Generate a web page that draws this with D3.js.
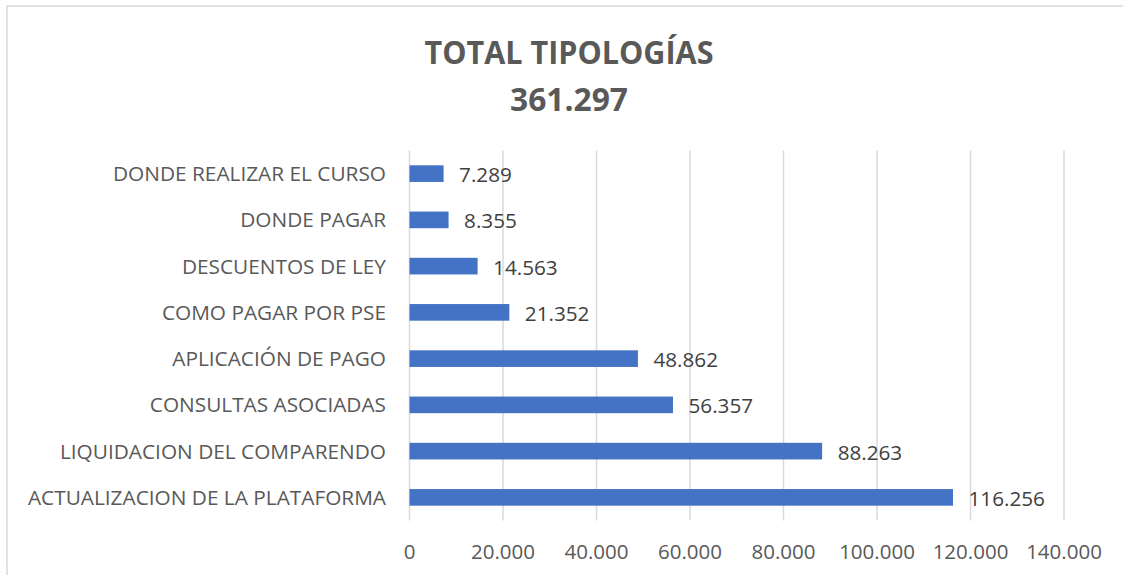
<!DOCTYPE html>
<html><head><meta charset="utf-8">
<script src="https://cdn.jsdelivr.net/npm/d3@7"></script>
<style>
html,body{margin:0;padding:0;background:#fff;}
svg{display:block;font-family:"Open Sans","Noto Sans",sans-serif;}
</style></head>
<body>
<svg id="chart" width="1123" height="575"></svg>
<script>
const titleLines = ["TOTAL TIPOLOGÍAS", "361.297"];
const categories = [
  "DONDE REALIZAR EL CURSO",
  "DONDE PAGAR",
  "DESCUENTOS DE LEY",
  "COMO PAGAR POR PSE",
  "APLICACIÓN DE PAGO",
  "CONSULTAS ASOCIADAS",
  "LIQUIDACION DEL COMPARENDO",
  "ACTUALIZACION DE LA PLATAFORMA"
];
const values = [7289, 8355, 14563, 21352, 48862, 56357, 88263, 116256];
const tickValues = [0, 20000, 40000, 60000, 80000, 100000, 120000, 140000];

const fmt = v => d3.format(",")(v).replace(/,/g, ".");

const svg = d3.select("#chart");
const pL = 409.5, pR = 1064, pT = 150.5, pB = 520.5;

// border
svg.append("rect").attr("x", 7).attr("y", 6).attr("width", 1130).attr("height", 600)
  .attr("fill", "none").attr("stroke", "#d9d9d9").attr("stroke-width", 1.5);

const x = d3.scaleLinear().domain([0, 140000]).range([pL, pR]);
const y = d3.scaleBand().domain(categories).range([pT, pB]).paddingInner(0.64).paddingOuter(0.32);

// gridlines
svg.append("g").selectAll("line").data(tickValues).join("line")
  .attr("x1", d => x(d)).attr("x2", d => x(d))
  .attr("y1", pT).attr("y2", pB)
  .attr("stroke", "#d9d9d9").attr("stroke-width", 1.5);

// x tick labels
svg.append("g").selectAll("text").data(tickValues).join("text")
  .attr("x", d => x(d)).attr("y", 558.5)
  .attr("text-anchor", "middle")
  .attr("font-size", "20.5px").attr("fill", "#595959")
  .text(d => fmt(d));

// bars
const data = categories.map((c, i) => ({c, v: values[i]}));
svg.append("g").selectAll("rect").data(data).join("rect")
  .attr("x", x(0)).attr("y", d => y(d.c))
  .attr("width", d => x(d.v) - x(0)).attr("height", y.bandwidth())
  .attr("fill", "#4472c4");

// value labels
svg.append("g").selectAll("text").data(data).join("text")
  .attr("x", d => x(d.v) + 15.5).attr("y", d => y(d.c) + y.bandwidth() / 2 + 1)
  .attr("dy", "0.36em")
  .attr("font-size", "20.7px").attr("fill", "#404040")
  .text(d => fmt(d.v));

// category labels
svg.append("g").selectAll("text").data(data).join("text")
  .attr("x", 386).attr("y", d => y(d.c) + y.bandwidth() / 2)
  .attr("dy", "0.36em").attr("text-anchor", "end")
  .attr("font-size", "20.8px").attr("fill", "#595959")
  .text(d => d.c);

// title
const titleWidths = [289, 118];
svg.append("g").selectAll("text").data(titleLines).join("text")
  .attr("x", 569).attr("y", (d, i) => 64 + i * 46.7)
  .attr("text-anchor", "middle")
  .attr("font-size", "33px").attr("font-weight", "bold").attr("fill", "#595959")
  .attr("textLength", (d, i) => titleWidths[i]).attr("lengthAdjust", "spacingAndGlyphs")
  .text(d => d);
</script>
</body></html>
